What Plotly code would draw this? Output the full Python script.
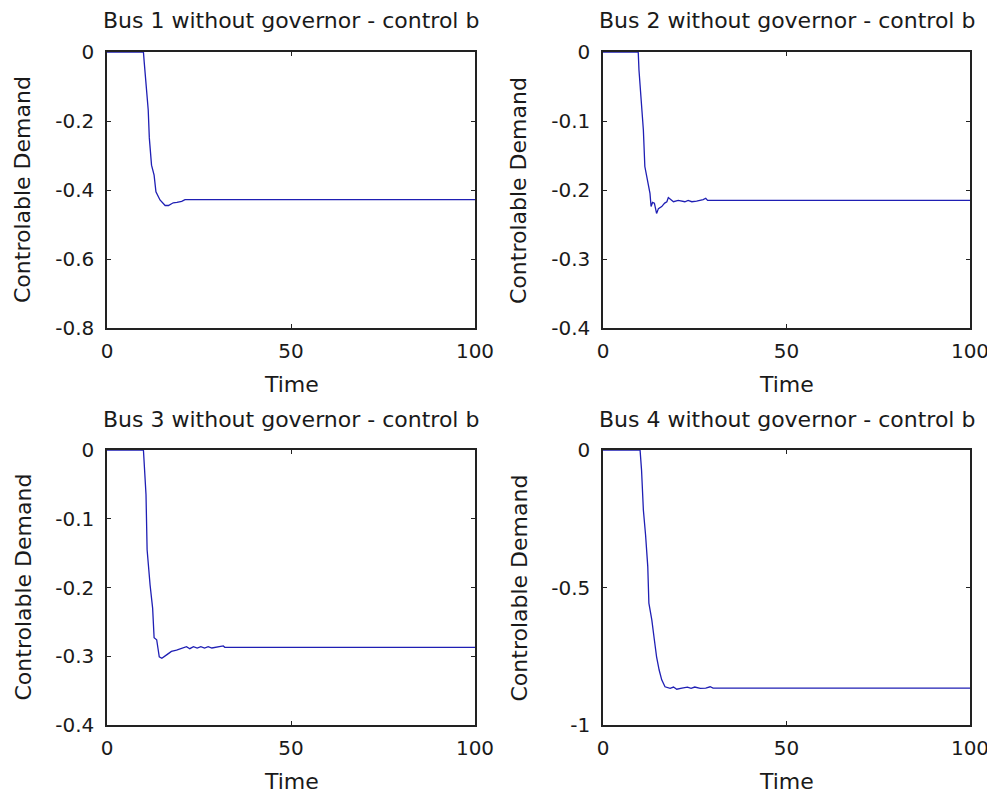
import plotly.graph_objects as go

# ---- data ----
t1 = [0, 9.9, 10.1, 10.6, 11.2, 11.5, 12.1, 12.8, 13.3, 14.4, 15.8, 16.7, 18.0, 19.0, 20.3, 21.2, 30, 50, 100]
v1 = [0, 0, -0.028, -0.105, -0.168, -0.249, -0.328, -0.357, -0.405, -0.429, -0.445, -0.445, -0.437, -0.436, -0.433, -0.428, -0.428, -0.428, -0.428]

t2 = [0, 9.6, 9.8, 10.4, 11.0, 11.4, 12.2, 12.8, 13.1, 13.5, 14.0, 14.3, 14.6, 15.1, 16.0, 16.8, 17.4, 17.8, 18.3, 19.2, 20.5, 21.5, 22.3, 23.2, 24.2, 25.5, 27.3, 28.0, 28.5, 50, 100]
v2 = [0, 0, -0.026, -0.070, -0.113, -0.166, -0.190, -0.205, -0.224, -0.218, -0.219, -0.230, -0.234, -0.227, -0.224, -0.219, -0.217, -0.211, -0.213, -0.217, -0.215, -0.216, -0.217, -0.215, -0.217, -0.216, -0.214, -0.212, -0.215, -0.215, -0.215]

t3 = [0, 9.9, 10.6, 10.9, 11.7, 12.4, 12.8, 13.5, 14.2, 14.9, 16.2, 17.5, 18.9, 20.0, 21.6, 22.5, 23.5, 24.5, 25.5, 26.5, 27.5, 28.5, 29.5, 31.6, 32.0, 50, 100]
v3 = [0, 0, -0.065, -0.145, -0.196, -0.230, -0.273, -0.276, -0.301, -0.303, -0.298, -0.293, -0.291, -0.289, -0.286, -0.289, -0.286, -0.288, -0.286, -0.288, -0.286, -0.288, -0.287, -0.285, -0.287, -0.287, -0.287]

t4 = [0, 10.1, 10.5, 11.0, 11.6, 12.2, 12.5, 13.3, 14.0, 14.6, 15.3, 16.0, 16.9, 18.3, 19.2, 20.1, 21.5, 23.0, 24.0, 25.0, 26.5, 28.0, 29.2, 30.0, 50, 100]
v4 = [0, 0, -0.073, -0.218, -0.309, -0.424, -0.557, -0.618, -0.691, -0.752, -0.800, -0.836, -0.861, -0.867, -0.862, -0.870, -0.866, -0.862, -0.867, -0.862, -0.867, -0.866, -0.861, -0.866, -0.866, -0.866]

titles = ["Bus 1 without governor - control b", "Bus 2 without governor - control b",
          "Bus 3 without governor - control b", "Bus 4 without governor - control b"]
x_ticks = [0, 50, 100]
y_ticks = [[0, -0.2, -0.4, -0.6, -0.8], [0, -0.1, -0.2, -0.3, -0.4],
           [0, -0.1, -0.2, -0.3, -0.4], [0, -0.5, -1]]
y_ticktext = [["0", "-0.2", "-0.4", "-0.6", "-0.8"], ["0", "-0.1", "-0.2", "-0.3", "-0.4"],
              ["0", "-0.1", "-0.2", "-0.3", "-0.4"], ["0", "-0.5", "-1"]]
y_ranges = [[-0.8, 0], [-0.4, 0], [-0.4, 0], [-1, 0]]
xlabel = "Time"
ylabel = "Controlable Demand"

OFF = 8  # page body margin: figure is drawn at (8, 8) in the window
W, H = 995 - OFF, 796 - OFF
# panel pixel boxes in window coordinates: (left, right, top, bottom)
boxes = [(107, 475, 52, 328), (603, 970, 52, 328), (107, 475, 450, 725), (603, 970, 450, 725)]

def px(x):
    return (x - OFF) / W

def py(y):
    return 1 - (y - OFF) / H

fig = go.Figure()
FONT = "DejaVu Sans, sans-serif"
TXT = "#1a1a1a"
data = [(t1, v1), (t2, v2), (t3, v3), (t4, v4)]
annotations = []
for i, ((t, v), (l, r, tp, b)) in enumerate(zip(data, boxes)):
    n = i + 1
    xa = "x" if n == 1 else f"x{n}"
    ya = "y" if n == 1 else f"y{n}"
    fig.add_trace(go.Scatter(x=t, y=v, mode="lines", line=dict(color="#1f1fb4", width=1.3),
                             xaxis=xa, yaxis=ya, showlegend=False, hoverinfo="skip"))
    common = dict(showline=True, linecolor="#222", linewidth=1.5, mirror="ticks",
                  ticks="inside", ticklen=4, tickcolor="#222", showgrid=False, zeroline=False,
                  layer="above traces", automargin=False,
                  tickfont=dict(family=FONT, size=20, color=TXT))
    fig.layout[f"xaxis{'' if n == 1 else n}"] = dict(
        domain=[px(l), px(r)], anchor=ya, range=[0, 100], tickvals=x_ticks,
        ticktext=[str(x) for x in x_ticks], ticklabelstandoff=4, **common)
    fig.layout[f"yaxis{'' if n == 1 else n}"] = dict(
        domain=[py(b), py(tp)], anchor=xa, range=y_ranges[i], tickvals=y_ticks[i],
        ticktext=y_ticktext[i], ticklabelstandoff=7, **common)
    cx = px((l + r) / 2)
    annotations.append(dict(text=titles[i], x=cx, y=py(tp - 31), xref="paper", yref="paper",
                            xanchor="center", yanchor="middle", showarrow=False,
                            font=dict(family=FONT, size=22, color=TXT)))
    annotations.append(dict(text=xlabel, x=cx, y=py(b + 56), xref="paper", yref="paper",
                            xanchor="center", yanchor="middle", showarrow=False,
                            font=dict(family=FONT, size=22, color=TXT)))
    annotations.append(dict(text=ylabel, x=px(l - 84), y=py((tp + b) / 2), xref="paper", yref="paper",
                            xanchor="center", yanchor="middle", textangle=-90, showarrow=False,
                            font=dict(family=FONT, size=22, color=TXT)))

fig.update_layout(width=W, height=H, margin=dict(l=0, r=0, t=0, b=0, pad=0, autoexpand=False),
                  paper_bgcolor="white", plot_bgcolor="white", annotations=annotations)
fig.write_html("out.html")
